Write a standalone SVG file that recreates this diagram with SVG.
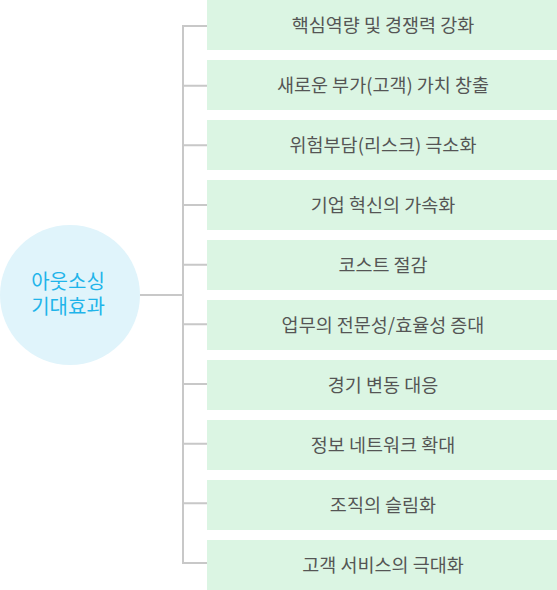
<svg xmlns="http://www.w3.org/2000/svg" width="557" height="590" viewBox="0 0 557 590">
<style>
.box{fill:#dbf5e3;}
.lbl{font-family:"Noto Sans CJK KR","Noto Sans",sans-serif;font-size:18.5px;fill:#555555;text-anchor:middle;}
.ctr{font-family:"Noto Sans CJK KR","Noto Sans",sans-serif;font-size:20px;fill:#1fb4ea;text-anchor:middle;}
.ln{stroke:#c8c8c8;stroke-width:2;fill:none;}
</style>
<rect width="557" height="590" fill="#ffffff"/>
<g id="connectors">
<path class="ln" d="M140 295H183M183 25V564M182 26H207M182 85.7H207M182 145.3H207M182 205H207M182 264.7H207M182 324.3H207M182 384H207M182 443.7H207M182 503.3H207M182 563H207"/>
</g>
<g id="center">
<circle cx="70" cy="295" r="70" fill="#e0f4fb"/>
<text class="ctr" x="68" y="289">아웃소싱</text>
<text class="ctr" x="68" y="314">기대효과</text>
</g>
<g id="n1"><rect class="box" x="207" y="0" width="350" height="50"/><text class="lbl" x="383" y="32">핵심역량 및 경쟁력 강화</text></g>
<g id="n2"><rect class="box" x="207" y="60" width="350" height="50"/><text class="lbl" x="383" y="92">새로운 부가(고객) 가치 창출</text></g>
<g id="n3"><rect class="box" x="207" y="120" width="350" height="50"/><text class="lbl" x="383" y="152">위험부담(리스크) 극소화</text></g>
<g id="n4"><rect class="box" x="207" y="180" width="350" height="50"/><text class="lbl" x="383" y="212">기업 혁신의 가속화</text></g>
<g id="n5"><rect class="box" x="207" y="240" width="350" height="50"/><text class="lbl" x="383" y="272">코스트 절감</text></g>
<g id="n6"><rect class="box" x="207" y="300" width="350" height="50"/><text class="lbl" x="383" y="332">업무의 전문성/효율성 증대</text></g>
<g id="n7"><rect class="box" x="207" y="360" width="350" height="50"/><text class="lbl" x="383" y="392">경기 변동 대응</text></g>
<g id="n8"><rect class="box" x="207" y="420" width="350" height="50"/><text class="lbl" x="383" y="452">정보 네트워크 확대</text></g>
<g id="n9"><rect class="box" x="207" y="480" width="350" height="50"/><text class="lbl" x="383" y="512">조직의 슬림화</text></g>
<g id="n10"><rect class="box" x="207" y="540" width="350" height="50"/><text class="lbl" x="383" y="572">고객 서비스의 극대화</text></g>
</svg>
